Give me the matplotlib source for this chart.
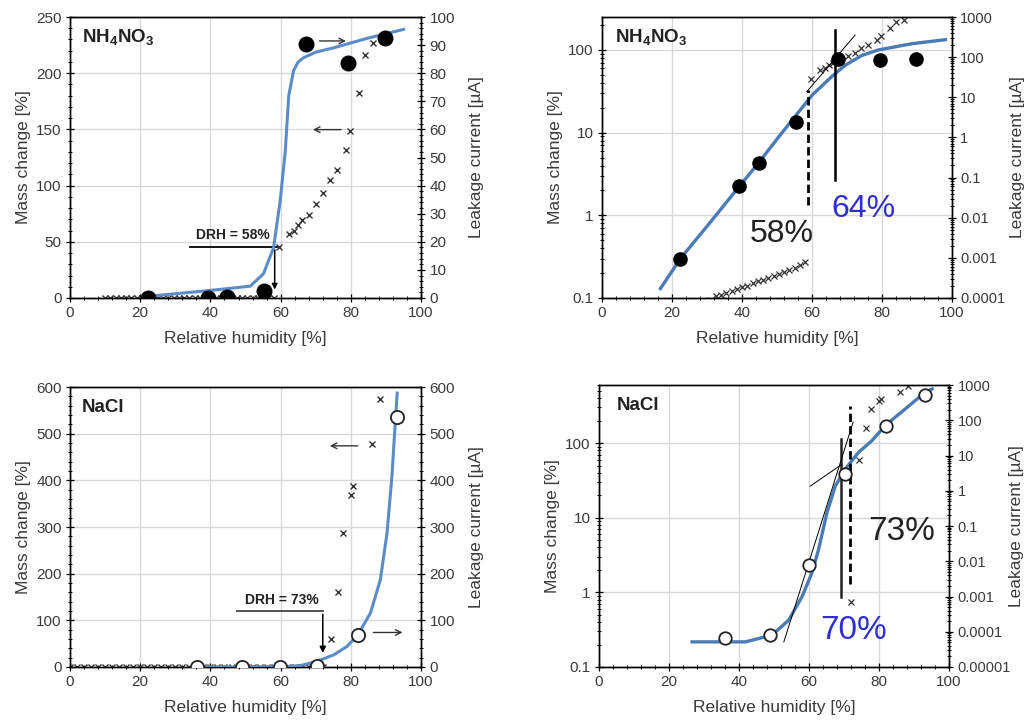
import matplotlib
matplotlib.use("Agg")
import matplotlib.pyplot as plt
import numpy as np
from matplotlib.ticker import MultipleLocator, LogLocator, FuncFormatter, NullFormatter

plt.rcParams["font.family"] = ["Liberation Sans", "DejaVu Sans"]
plt.rcParams["mathtext.fontset"] = "custom"
plt.rcParams["mathtext.rm"] = "Liberation Sans"
plt.rcParams["mathtext.bf"] = "Liberation Sans:bold"

# ---- NH4NO3 data ----
# mass change [%] (crosses, left axis)
nh_mass_rh = [10, 11.5, 13, 14.5, 16, 17.5, 19, 20.5, 22, 23.5, 25, 26.5, 28, 29.5, 31,
              32.5, 34, 35.5, 37, 38.5, 40, 41.5, 43, 44.5, 46, 47.5, 49, 50.5, 52, 53.5,
              55, 56.5, 58,
              59.6, 62.3, 63.7, 64.9, 66.1, 68.0, 70.2, 72.2, 74.0, 76.0, 78.7, 79.7, 82.4,
              83.9, 86.2]
nh_mass = [0.04, 0.042, 0.045, 0.048, 0.05, 0.053, 0.056, 0.06, 0.063, 0.066, 0.07, 0.074,
           0.078, 0.083, 0.095,
           0.105, 0.11, 0.115, 0.12, 0.13, 0.135, 0.14, 0.15, 0.16, 0.165, 0.175, 0.185,
           0.195, 0.205, 0.22, 0.23, 0.25, 0.27,
           45, 57, 60, 65, 69, 74, 84, 93, 105, 114, 132, 149, 182, 216, 227]
# leakage current [uA] (filled circles, right axis)
nh_cur_rh = [22.3, 39.2, 44.8, 55.3, 67.3, 79.3, 89.6]
nh_cur = [0.00096, 0.062, 0.235, 2.4, 90.5, 83.8, 92.5]
# fitted curves
nh_fit_lin_rh = [22, 30, 40, 51.3, 55.1, 58, 59.9, 61.3, 62.3, 63.7, 65.0, 66.5, 70, 75,
                 84.6, 95]
nh_fit_lin = [0.6, 1.5, 2.7, 4.2, 8.6, 18, 35, 52, 72, 81, 84, 85.5, 87.5, 89, 92.4, 95.6]
nh_fit_log_rh = [16.7, 22.4, 31.4, 39.3, 44.8, 50.5, 56.2, 60, 65.7, 69.5, 74.3, 79, 88.6, 98.1]
nh_fit_log = [0.13, 0.3, 0.87, 2.26, 4.34, 8.9, 17.8, 28.3, 47.9, 65.3, 86, 100, 119, 133]

# ---- NaCl data ----
na_mass_rh = [0, 2, 4, 6, 8, 10, 12, 14, 16, 18, 20, 22, 24, 26, 28, 30, 32, 34, 36, 38,
              40, 42, 44, 46, 48, 50, 52, 54, 56, 58, 60, 62, 64, 66, 68, 70, 72,
              74.3, 76.3, 77.8, 79.9, 80.5, 86.1, 88.2]
na_mass = [0, 0, 0, 0, 0, 0, 0, 0, 0, 0, 0, 0, 0, 0, 0, 0, 0, 0, 0, 0,
           0, 0, 0, 0, 0, 0, 0, 0, 0, 0, 0, 0, 0, 0, 0, 0, 0.75,
           60, 160, 288, 368, 388, 478, 575]
na_cur_rh = [36.1, 48.9, 59.9, 70.3, 82.0, 93.2]
na_cur = [6.8e-5, 8.2e-5, 0.008, 2.9, 69, 535]
na_fit_lin_rh = [36, 50, 60, 65.6, 70.3, 75.1, 78.9, 82, 85.6, 88.4, 90.3, 91.7, 92.7, 93.2]
na_fit_lin = [0, 0, 0.5, 3, 12, 26, 44, 69, 116, 187, 287, 409, 530, 587]
na_fit_log_rh = [26.6, 41.8, 49.4, 54.2, 58, 60.8, 62.7, 65.1, 67.5, 70.3, 74.1, 77.9, 82,
                 87.5, 93.2, 95.2]
na_fit_log = [0.217, 0.217, 0.267, 0.425, 0.877, 1.81, 3.73, 11.6, 26.6, 44.6, 74.8, 107,
              176, 287, 481, 533]

BLUE = "#5b8cc8"
BLUE_DARK = "#4a7bb5"
TXT = "#3a3a3a"
PCT_BLUE = "#2f2fd0"


def dec_fmt(v, pos):
    if v <= 0:
        return ""
    d = max(0, -int(np.floor(np.log10(v) + 1e-9)))
    return f"{v:.{d}f}"


def style(ax, ax2):
    for a in (ax, ax2):
        a.tick_params(which="major", direction="inout", length=6, width=0.9,
                      labelsize=11, labelcolor=TXT, colors="k", pad=3)
        a.tick_params(which="minor", direction="inout", length=3.5, width=0.7, colors="k")
        for s in a.spines.values():
            s.set_linewidth(1.0)
    ax.tick_params(axis="y", labelcolor=TXT)
    ax2.tick_params(axis="y", labelcolor=TXT)
    ax.set_xlim(0, 100)
    ax.xaxis.set_major_locator(MultipleLocator(20))
    ax.xaxis.set_minor_locator(MultipleLocator(4))
    ax.grid(True, which="major", color="#d8d8d8", lw=1.0)
    ax.set_axisbelow(True)
    ax.set_xlabel("Relative humidity [%]", fontsize=12.5, color=TXT, labelpad=8)
    ax.set_ylabel("Mass change [%]", fontsize=12.5, color=TXT, labelpad=4)
    ax2.set_ylabel("Leakage current [\u00b5A]", fontsize=12.5, color=TXT, labelpad=10)


fig = plt.figure(figsize=(10.24, 7.21), dpi=100)

# ---------- panel 1: NH4NO3 linear ----------
ax = fig.add_axes([0.0684, 0.5867, 0.3428, 0.3897])
ax2 = ax.twinx()
style(ax, ax2)
ax.set_ylim(0, 250)
ax.yaxis.set_major_locator(MultipleLocator(50))
ax.yaxis.set_minor_locator(MultipleLocator(10))
ax2.set_ylim(0, 100)
ax2.yaxis.set_major_locator(MultipleLocator(10))
ax2.yaxis.set_minor_locator(MultipleLocator(2))
ax.plot(nh_mass_rh, nh_mass, "x", color="#333333", ms=4.5, mew=1.0, zorder=3)
ax2.plot(nh_fit_lin_rh, nh_fit_lin, color=BLUE, lw=2.2, zorder=3)
ax2.plot(nh_cur_rh, nh_cur, "o", color="k", ms=10.5, zorder=4)
ax.plot([34.2, 59.0], [45.4, 45.4], color="k", lw=1.3, zorder=5)
ax.annotate("", xy=(58.3, 5), xytext=(58.3, 45.4),
            arrowprops=dict(arrowstyle="-|>", color="k", lw=1.1, mutation_scale=8), zorder=5)
ax.text(46.3, 56, "DRH = 58%", fontsize=10, fontweight="bold", ha="center", va="center",
        color="#222222")
ax.annotate("", xy=(79.4, 228.7), xytext=(70.3, 228.7),
            arrowprops=dict(arrowstyle="->", color="#333333", lw=1.0))
ax.annotate("", xy=(68.4, 149.8), xytext=(78.0, 149.8),
            arrowprops=dict(arrowstyle="->", color="#333333", lw=1.0))
ax.text(3.3, 232, r"$\mathbf{NH_4NO_3}$", fontsize=13.5, ha="left", va="center",
        color="#222222")

# ---------- panel 2: NH4NO3 log ----------
ax = fig.add_axes([0.5879, 0.5867, 0.3418, 0.3897])
ax2 = ax.twinx()
ax.set_yscale("log", nonpositive="mask")
ax2.set_yscale("log", nonpositive="mask")
style(ax, ax2)
ax2.yaxis.set_label_coords(1.166, 0.5)
ax.set_ylim(0.1, 250)
ax2.set_ylim(1e-4, 1000)
for a in (ax, ax2):
    a.yaxis.set_major_locator(LogLocator(base=10))
    a.yaxis.set_minor_locator(LogLocator(base=10, subs=np.arange(2, 10)))
    a.yaxis.set_major_formatter(FuncFormatter(dec_fmt))
    a.yaxis.set_minor_formatter(NullFormatter())
ax2.tick_params(axis="y", labelsize=10.5)
ax.plot(nh_mass_rh, nh_mass, "x", color="#333333", ms=4.0, mew=0.9, zorder=3)
ax.plot(nh_fit_log_rh, nh_fit_log, color=BLUE_DARK, lw=2.4, zorder=3)
ax.plot([58.9, 58.9], [1.32, 32.5], color="k", lw=2.0, ls=(0, (3, 1.5)), zorder=5)
ax.plot([66.7, 66.7], [2.65, 176], color="k", lw=1.8, zorder=5)
ax.plot([58.5, 72.3], [31.2, 151], color="k", lw=0.7, zorder=5)
ax.text(51.4, 0.6, "58%", fontsize=23, ha="center", va="center", color="#222222")
ax.text(74.8, 1.2, "64%", fontsize=23, ha="center", va="center", color=PCT_BLUE)
ax.text(3.8, 143, r"$\mathbf{NH_4NO_3}$", fontsize=13.5, ha="left", va="center",
        color="#222222")
ax2.plot(nh_cur_rh, nh_cur, "o", color="k", ms=9.5, zorder=4)

# ---------- panel 3: NaCl linear ----------
ax = fig.add_axes([0.0684, 0.0749, 0.3428, 0.3883])
ax2 = ax.twinx()
style(ax, ax2)
ax.set_ylim(0, 600)
ax.yaxis.set_major_locator(MultipleLocator(100))
ax.yaxis.set_minor_locator(MultipleLocator(20))
ax2.set_ylim(0, 600)
ax2.yaxis.set_major_locator(MultipleLocator(100))
ax2.yaxis.set_minor_locator(MultipleLocator(20))
ax.plot(na_mass_rh, na_mass, "x", color="#333333", ms=4.5, mew=1.0, zorder=3)
ax2.plot(na_fit_lin_rh, na_fit_lin, color=BLUE, lw=2.2, zorder=3)
ax2.plot(na_cur_rh, na_cur, "o", mfc="white", mec="#222222", mew=1.3, ms=9.5, zorder=4)
ax.plot([47.7, 72.0], [119, 119], color="#444444", lw=1.3, zorder=5)
ax.annotate("", xy=(72.0, 24), xytext=(72.0, 119),
            arrowprops=dict(arrowstyle="-|>", color="k", lw=1.1, mutation_scale=9), zorder=5)
ax.text(60.4, 144, "DRH = 73%", fontsize=10, fontweight="bold", ha="center", va="center",
        color="#222222")
ax.annotate("", xy=(73.2, 474), xytext=(82.7, 474),
            arrowprops=dict(arrowstyle="->", color="#333333", lw=1.0))
ax.annotate("", xy=(95.5, 74), xytext=(85.6, 74),
            arrowprops=dict(arrowstyle="->", color="#333333", lw=1.0))
ax.text(3.3, 557, "NaCl", fontsize=13.5, fontweight="bold", ha="left", va="center",
        color="#222222")

# ---------- panel 4: NaCl log ----------
ax = fig.add_axes([0.5850, 0.0749, 0.3418, 0.3911])
ax2 = ax.twinx()
ax.set_yscale("log", nonpositive="mask")
ax2.set_yscale("log", nonpositive="mask")
style(ax, ax2)
ax2.yaxis.set_label_coords(1.172, 0.5)
ax.set_ylim(0.1, 600)
ax2.set_ylim(1e-5, 1000)
for a in (ax, ax2):
    a.yaxis.set_major_locator(LogLocator(base=10, numticks=15))
    a.yaxis.set_minor_locator(LogLocator(base=10, subs=np.arange(2, 10), numticks=15))
    a.yaxis.set_major_formatter(FuncFormatter(dec_fmt))
    a.yaxis.set_minor_formatter(NullFormatter())
ax2.tick_params(axis="y", labelsize=10.5)
ax.plot(na_mass_rh, na_mass, "x", color="#333333", ms=4.0, mew=0.9, zorder=3)
ax.plot(na_fit_log_rh, na_fit_log, color=BLUE_DARK, lw=2.4, zorder=3)
ax.plot([69.2, 69.2], [0.86, 113], color="#222222", lw=1.8, zorder=5)
ax.plot([71.8, 71.8], [1.3, 317], color="k", lw=2.0, ls=(0, (3, 1.5)), zorder=5)
ax.plot([52.8, 72.6], [0.217, 192], color="k", lw=0.7, zorder=5)
ax.plot([60.3, 69.4], [26.4, 52], color="k", lw=0.7, zorder=5)
ax.text(86.5, 6.6, "73%", fontsize=24, ha="center", va="center", color="#222222")
ax.text(72.7, 0.31, "70%", fontsize=24, ha="center", va="center", color=PCT_BLUE)
ax.text(5.2, 315, "NaCl", fontsize=13.5, fontweight="bold", ha="left", va="center",
        color="#222222")
ax2.plot(na_cur_rh, na_cur, "o", mfc="white", mec="#222222", mew=1.3, ms=9, zorder=4)

fig.savefig("out.png", dpi=100)
